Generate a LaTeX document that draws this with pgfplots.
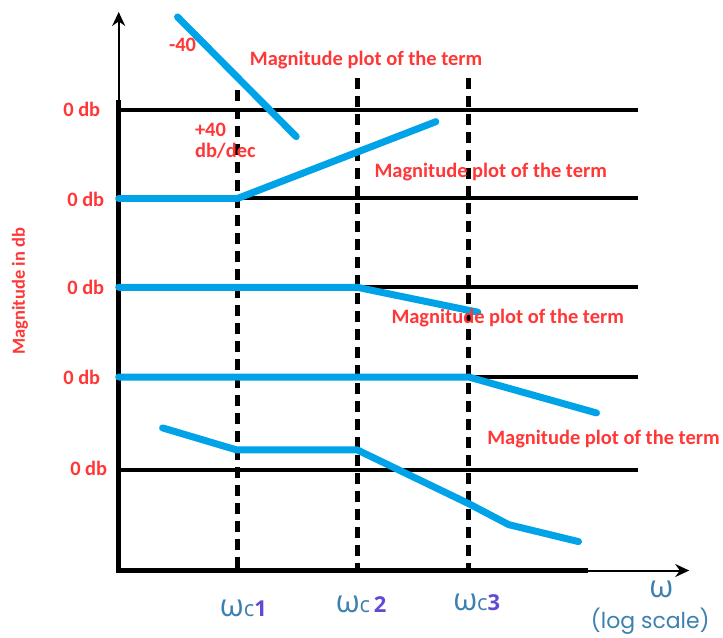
\documentclass[border=0pt]{standalone}
\usepackage{pgfplots}
\pgfplotsset{compat=1.18}
\usetikzlibrary{arrows.meta}
\usepackage{fontspec}
\setmainfont{Carlito}
\newfontfamily\geo{Poppins}
\newfontfamily\om{Open Sans}

\definecolor{lblred}{RGB}{255,55,55}
\definecolor{curve}{RGB}{0,162,232}
\definecolor{wblue}{RGB}{60,128,176}
\definecolor{wsub}{RGB}{95,75,210}

% coordinates are in picture units: x to the right, y downwards
\begin{document}
\begin{tikzpicture}
\begin{axis}[
    scale only axis,
    width=723pt, height=633pt,
    xmin=0, xmax=723, ymin=0, ymax=633,
    y dir=reverse,
    hide axis, clip=false,
    every node/.style={inner sep=0pt},
]
% frame of the picture
\addplot[draw=none, forget plot] coordinates {(0,0) (723,633)};

% zero-db reference lines
\addplot[black, line width=4pt] coordinates {(119,110) (640,110)};
\addplot[black, line width=4pt] coordinates {(119,199) (640,199)};
\addplot[black, line width=4pt] coordinates {(119,288) (640,288)};
\addplot[black, line width=4pt] coordinates {(119,378) (640,378)};
\addplot[black, line width=4pt] coordinates {(119,471) (640,471)};

% corner frequencies
\addplot[black, line width=5pt, dash pattern=on 11pt off 7pt] coordinates {(238,90) (238,572)};
\addplot[black, line width=5pt, dash pattern=on 11pt off 7pt] coordinates {(358,78) (358,572)};
\addplot[black, line width=5pt, dash pattern=on 11pt off 7pt] coordinates {(470,78) (470,572)};

% axes
\addplot[black, line width=4.5pt] coordinates {(119,100) (119,572) (590,572)};
\addplot[black, line width=2pt, -{Stealth[length=14pt,width=13pt]}] coordinates {(119,102) (119,12)};
\addplot[black, line width=2pt, -{Stealth[length=14pt,width=13pt]}] coordinates {(588,572) (691,572)};

% asymptotic magnitude curves
\addplot[curve, line width=7pt, line cap=round, line join=round] coordinates {(178,17) (297,137)};
\addplot[curve, line width=7pt, line cap=round, line join=round] coordinates {(119,199) (238,199) (437,122)};
\addplot[curve, line width=7pt, line cap=round, line join=round] coordinates {(119,288) (358,288) (479,313)};
\addplot[curve, line width=7pt, line cap=round, line join=round] coordinates {(119,378) (470,378) (598,414)};
\addplot[curve, line width=7pt, line cap=round, line join=round] coordinates {(163,429) (237,451) (358,451) (470,505) (510,526) (580,543)};

% labels
\begin{scope}[font=\fontsize{20.5}{24}\selectfont\bfseries, text=lblred]
\node[anchor=west] at (axis cs:247,60) {Magnitude plot of the term};
\node[anchor=west] at (axis cs:372,173) {Magnitude plot of the term};
\node[anchor=west] at (axis cs:389,319) {Magnitude plot of the term};
\node[anchor=west] at (axis cs:485,440) {Magnitude plot of the term};
\node[anchor=west] at (axis cs:166,45) {-40};
\node[anchor=north west, align=left] at (axis cs:192,120) {+40\\[-3pt]db/dec};
\node[anchor=east] at (axis cs:104,110) {0 db};
\node[anchor=east] at (axis cs:108,200) {0 db};
\node[anchor=east] at (axis cs:108,288) {0 db};
\node[anchor=east] at (axis cs:104,378) {0 db};
\node[anchor=east] at (axis cs:111,470) {0 db};
\end{scope}
\node[rotate=90, text=lblred, font=\fontsize{18.5}{22}\selectfont\bfseries] at (axis cs:20,292) {Magnitude in db};

\begin{scope}[text=wblue]
\node[font=\om\fontsize{31}{34}\selectfont] at (axis cs:244,610) {ω{\fontsize{22}{24}\selectfont c\textcolor{wsub}{\bfseries 1}}};
\node[font=\om\fontsize{31}{34}\selectfont] at (axis cs:362,606) {ω{\fontsize{22}{24}\selectfont c\,\textcolor{wsub}{\bfseries 2}}};
\node[font=\om\fontsize{31}{34}\selectfont] at (axis cs:478,604) {ω{\fontsize{22}{24}\selectfont c\textcolor{wsub}{\bfseries 3}}};
\node[font=\om\fontsize{31}{34}\selectfont] at (axis cs:663,591) {ω};
\node[font=\geo\fontsize{22}{26}\selectfont] at (axis cs:652,623) {(log scale)};
\end{scope}
\end{axis}
\end{tikzpicture}
\end{document}
